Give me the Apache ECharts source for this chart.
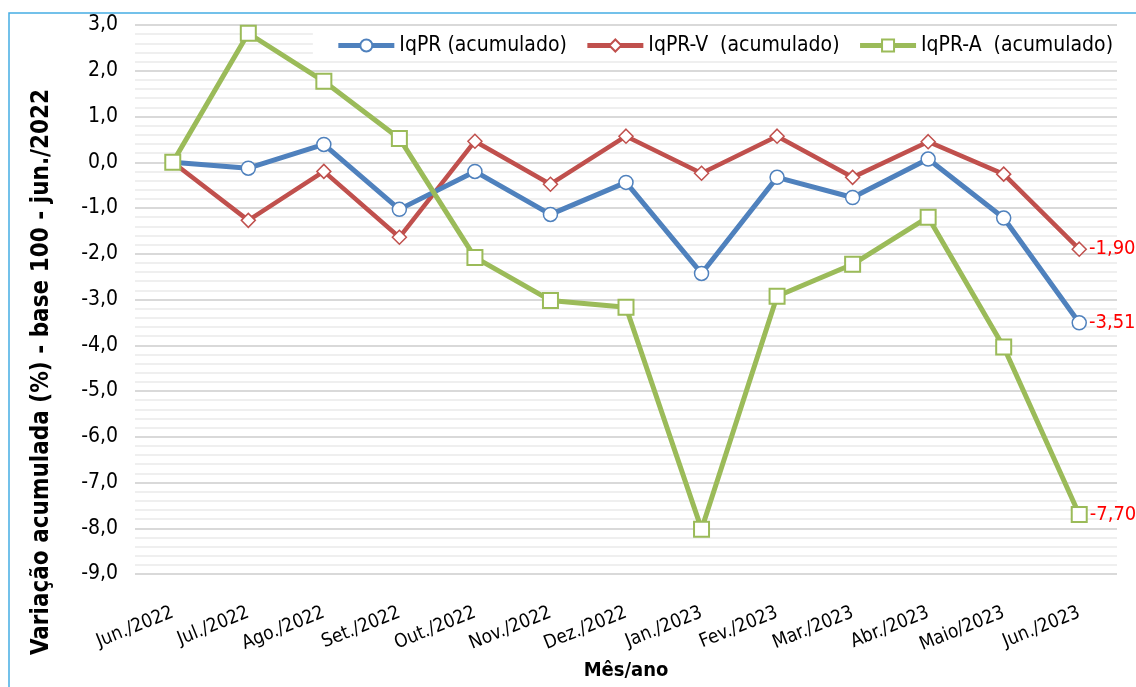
<!DOCTYPE html>
<html><head><meta charset="utf-8">
<script src="https://cdn.jsdelivr.net/npm/echarts@6/dist/echarts.min.js"></script>
<style>html,body{margin:0;padding:0;background:#fff}#c{width:1136px;height:687px}</style>
</head><body><div id="c"></div>
<script>
var categories = ['Jun./2022','Jul./2022','Ago./2022','Set./2022','Out./2022','Nov./2022','Dez./2022','Jan./2023','Fev./2023','Mar./2023','Abr./2023','Maio/2023','Jun./2023'];
var iqpr  = [0.00, -0.13, 0.39, -1.03, -0.20, -1.14, -0.44, -2.43, -0.33, -0.77, 0.07, -1.22, -3.51];
var iqprV = [0.00, -1.27, -0.20, -1.64, 0.46, -0.48, 0.57, -0.24, 0.57, -0.33, 0.45, -0.26, -1.90];
var iqprA = [0.00, 2.82, 1.77, 0.52, -2.08, -3.02, -3.17, -8.02, -2.93, -2.23, -1.20, -4.04, -7.70];
var seriesNames = ['IqPR (acumulado)', 'IqPR-V  (acumulado)', 'IqPR-A  (acumulado)'];
var yTitle = 'Variação acumulada (%) - base 100 - jun./2022';
var xTitle = 'Mês/ano';

var FONT = '"DejaVu Sans Condensed", "DejaVu Sans", sans-serif';
function fmt(v){ return v.toFixed(2).replace('.', ','); }
function endLabel(){
  return { show: true, position: 'right', distance: 2, color: '#ff0000', fontSize: 20, fontFamily: FONT,
    formatter: function(p){ return p.dataIndex === categories.length - 1 ? fmt(p.value) : ''; } };
}
var chart = echarts.init(document.getElementById('c'));
chart.setOption({
  animation: false,
  backgroundColor: '#fff',
  graphic: [
    { type: 'rect', shape: { x: 9, y: 13, width: 1300, height: 900 }, style: { fill: 'none', stroke: '#45ade3', lineWidth: 1.5 }, silent: true },
    { type: 'text', x: 42, y: 372, rotation: Math.PI / 2,
      style: { text: yTitle, fontFamily: FONT, fontSize: 24, fontWeight: 'bold', fill: '#000', align: 'center', verticalAlign: 'middle' } }
  ],
  grid: { left: 135, right: 19, top: 25, bottom: 113 },
  legend: {
    top: 31, right: 19, itemWidth: 56, itemHeight: 15, itemGap: 18,
    backgroundColor: '#fff', padding: [4, 4, 5, 23],
    textStyle: { fontFamily: FONT, fontSize: 21, color: '#000' },
    lineStyle: { width: 5 },
    data: seriesNames
  },
  xAxis: {
    type: 'category', data: categories, boundaryGap: true,
    name: xTitle, nameLocation: 'middle', nameGap: 84,
    nameTextStyle: { fontFamily: FONT, fontSize: 20, fontWeight: 'bold', color: '#000' },
    axisLine: { show: false }, axisTick: { show: false },
    axisLabel: { rotate: 22, fontFamily: FONT, fontSize: 19, color: '#000', margin: 38, interval: 0 }
  },
  yAxis: {
    type: 'value', min: -9, max: 3, interval: 1,
    axisLine: { show: false }, axisTick: { show: false },
    axisLabel: { fontFamily: FONT, fontSize: 21, color: '#000', margin: 17,
      formatter: function(v){ return v.toFixed(1).replace('.', ','); } },
    splitLine: { lineStyle: { color: '#d9d9d9', width: 2 } },
    minorTick: { show: false, splitNumber: 5 },
    minorSplitLine: { show: true, lineStyle: { color: '#efefef', width: 2 } }
  },
  series: [
    { name: seriesNames[0], type: 'line', data: iqpr, symbol: 'circle', symbolSize: 14, z: 3,
      lineStyle: { color: '#4f81bd', width: 5 },
      itemStyle: { color: '#fff', borderColor: '#4f81bd', borderWidth: 1.5 },
      label: endLabel() },
    { name: seriesNames[1], type: 'line', data: iqprV, symbol: 'diamond', symbolSize: 14, z: 2,
      lineStyle: { color: '#c0504d', width: 4.5 },
      itemStyle: { color: '#fff', borderColor: '#c0504d', borderWidth: 1.5 },
      label: endLabel() },
    { name: seriesNames[2], type: 'line', data: iqprA, symbol: 'rect', symbolSize: 15, z: 4,
      lineStyle: { color: '#9bbb59', width: 5 },
      itemStyle: { color: '#fff', borderColor: '#9bbb59', borderWidth: 2 },
      label: endLabel() }
  ]
});
</script></body></html>
